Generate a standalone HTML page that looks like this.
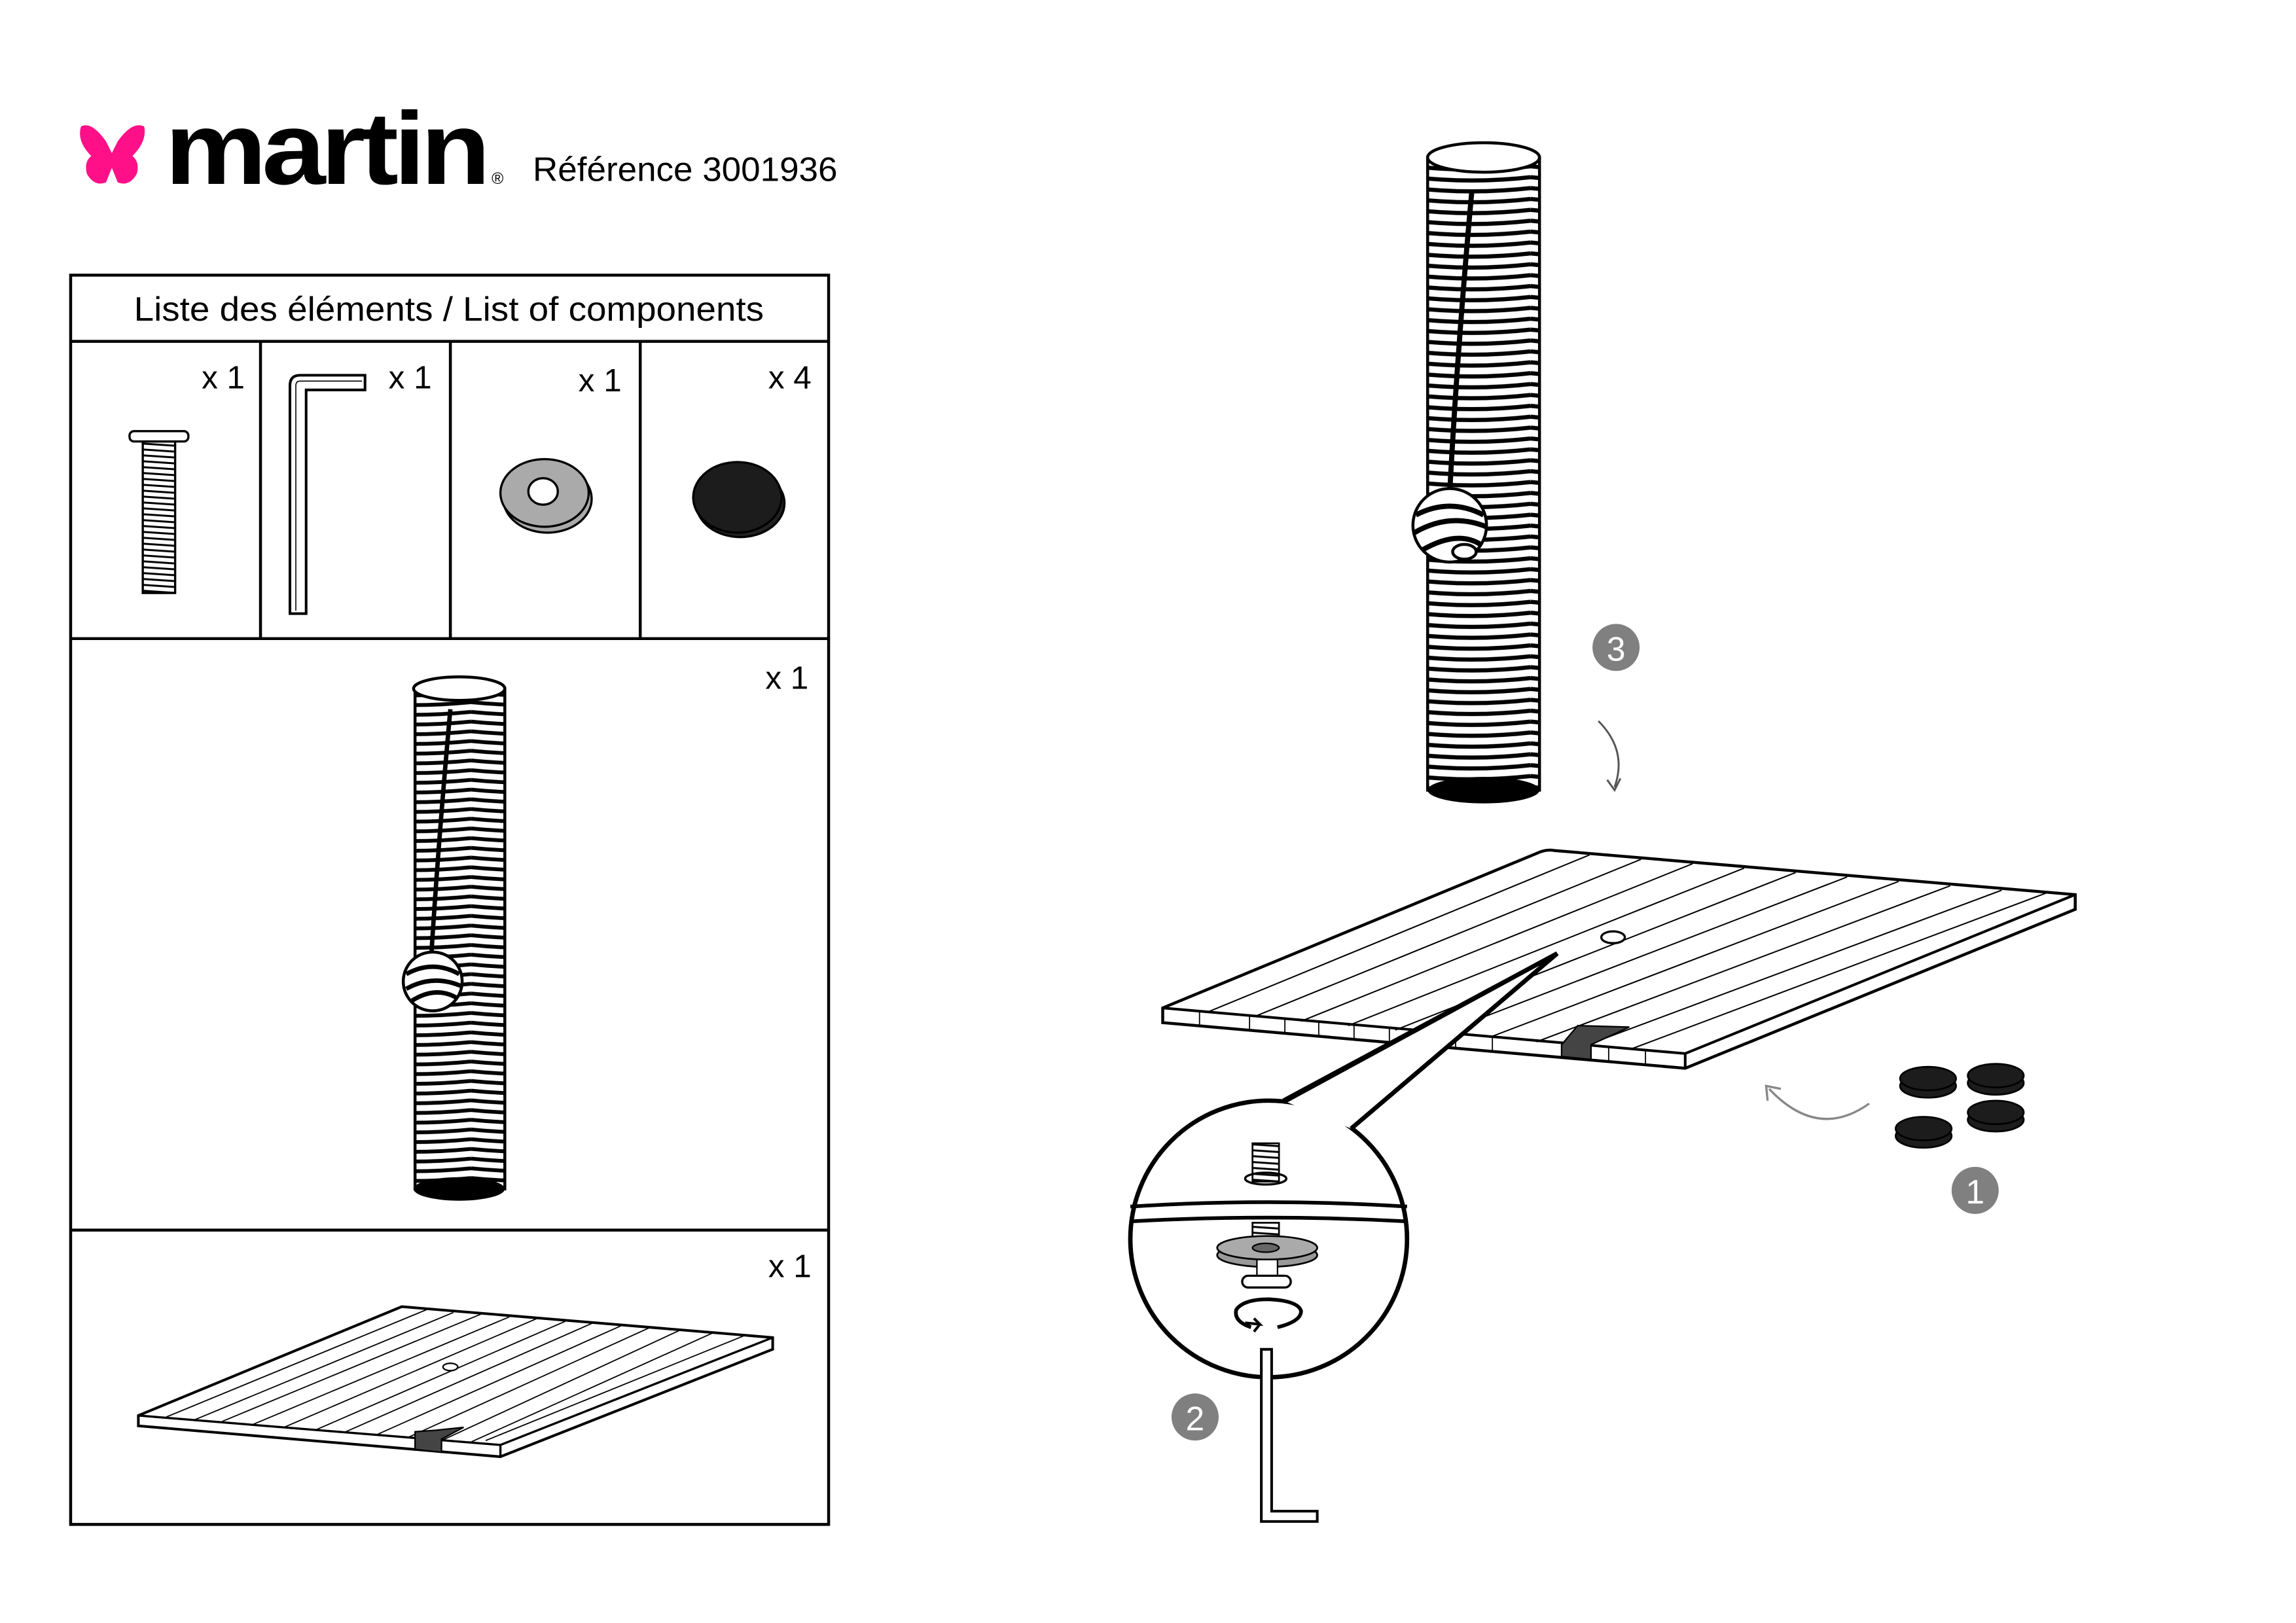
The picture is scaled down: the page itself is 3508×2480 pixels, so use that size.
<!DOCTYPE html>
<html><head><meta charset="utf-8"><style>
html,body{margin:0;padding:0;background:#fff}
svg{display:block}
text{font-family:"Liberation Sans",sans-serif}
</style></head><body>
<svg width="3508" height="2480" viewBox="0 0 1560 1103" preserveAspectRatio="none" xmlns="http://www.w3.org/2000/svg">
<defs>
<pattern id="st" width="80" height="6.6" patternUnits="userSpaceOnUse">
<path d="M0 2 Q40 6 80 2" stroke="#000" stroke-width="2.6" fill="none"/>
</pattern>
<pattern id="st2" width="80" height="7.4" patternUnits="userSpaceOnUse">
<path d="M0 2 Q40 6.5 80 2" stroke="#000" stroke-width="2.8" fill="none"/>
</pattern>
<pattern id="th" width="30" height="4" patternUnits="userSpaceOnUse">
<path d="M0 1 L30 3" stroke="#000" stroke-width="1.3"/>
</pattern>
</defs>
<rect width="1560" height="1103" fill="#fff"/>
<!-- logo -->
<path d="M55 86 Q62 82 72 96 L76 104 L80 96 Q90 82 98 86 Q100 96 90 106 Q95 110 93 118 Q88 127 80 124 L76 114 L72 124 Q64 127 59 118 Q57 110 62 106 Q52 96 55 86Z" fill="#ff1088"/>
<text x="112" y="125" font-size="70" font-weight="bold" letter-spacing="-3" textLength="218" lengthAdjust="spacingAndGlyphs">martin</text>
<text x="334" y="125" font-size="11">®</text>
<text x="362" y="123" font-size="23" textLength="207" lengthAdjust="spacingAndGlyphs">Référence 3001936</text>
<!-- table -->
<g fill="none" stroke="#000" stroke-width="2">
<rect x="48" y="187" width="515" height="849"/>
<line x1="48" y1="232" x2="563" y2="232"/>
<line x1="48" y1="434" x2="563" y2="434"/>
<line x1="48" y1="836" x2="563" y2="836"/>
<line x1="177" y1="232" x2="177" y2="434"/>
<line x1="306" y1="232" x2="306" y2="434"/>
<line x1="435" y1="232" x2="435" y2="434"/>
</g>
<text x="305" y="218" font-size="23" text-anchor="middle" textLength="428" lengthAdjust="spacingAndGlyphs">Liste des éléments / List of components</text>
<g font-size="22">
<text x="137" y="264">x 1</text><text x="264" y="264">x 1</text><text x="393" y="266">x 1</text><text x="522" y="264">x 4</text>
<text x="520" y="468">x 1</text><text x="522" y="868">x 1</text>
</g>
<!-- bolt -->
<rect x="97" y="300" width="22" height="103" fill="url(#th)" stroke="#000" stroke-width="1.5"/>
<rect x="88" y="293" width="40" height="7" rx="3" fill="#fff" stroke="#000" stroke-width="1.5"/>
<!-- hex key -->
<path d="M197 417 V262 Q197 255 204 255 H248 V265 H208 V417 Z" fill="#fff" stroke="#000" stroke-width="1.8"/>
<path d="M201 415 V262 Q201 259 204 259 H246" fill="none" stroke="#000" stroke-width="0.7"/>
<!-- washer -->
<ellipse cx="372" cy="339" rx="30" ry="23" fill="#aaa" stroke="#000" stroke-width="1.5"/>
<ellipse cx="370" cy="335" rx="30" ry="23" fill="#aaa" stroke="#000" stroke-width="1.5"/>
<ellipse cx="369" cy="334" rx="10" ry="9" fill="#fff" stroke="#000" stroke-width="1.5"/>
<!-- cap -->
<ellipse cx="503" cy="342" rx="30" ry="23" fill="#222" stroke="#000" stroke-width="1.5"/>
<ellipse cx="501" cy="338" rx="30" ry="24" fill="#1c1c1c" stroke="#000" stroke-width="1.5"/>
<!-- small post -->
<ellipse cx="312" cy="808" rx="31" ry="8" fill="#000"/>
<rect x="282" y="468" width="61" height="340" fill="url(#st)" stroke="#000" stroke-width="2"/>
<ellipse cx="312" cy="468" rx="31" ry="8" fill="#fff" stroke="#000" stroke-width="2"/>
<path d="M306 482 Q298 570 293 650" stroke="#000" stroke-width="3" fill="none"/>
<circle cx="294" cy="667" r="20" fill="#fff" stroke="#000" stroke-width="2"/>
<path d="M276 662 Q294 652 312 662 M276 672 Q294 662 313 670 M280 680 Q296 670 310 678" stroke="#000" stroke-width="3" fill="none"/>
<!-- small board -->
<path d="M94 962 L273 888 L525 909 V917 L340 990 L94 969 Z" fill="#fff" stroke="#000" stroke-width="1.8"/>
<path d="M94 962 L340 982 L525 909 M340 982 V990" fill="none" stroke="#000" stroke-width="1.5"/>
<g stroke="#000" stroke-width="0.8">
<line x1="113" y1="963" x2="290" y2="890"/><line x1="132" y1="965" x2="308" y2="892"/><line x1="151" y1="966" x2="327" y2="893"/><line x1="172" y1="968" x2="346" y2="895"/><line x1="193" y1="970" x2="365" y2="896"/><line x1="214" y1="972" x2="384" y2="898"/><line x1="235" y1="973" x2="403" y2="899"/><line x1="256" y1="975" x2="422" y2="901"/><line x1="277" y1="977" x2="442" y2="902"/><line x1="300" y1="979" x2="462" y2="904"/><line x1="320" y1="980" x2="484" y2="906"/><line x1="505" y1="908" x2="330" y2="979"/>
</g>
<ellipse cx="306" cy="929" rx="5" ry="2.5" fill="#fff" stroke="#000"/>
<path d="M282 973 L296 972 L315 970 L300 978 V987 L282 985 Z" fill="#444" stroke="#000" stroke-width="1"/>
<!-- big post -->
<ellipse cx="1008" cy="537" rx="38" ry="9" fill="#000"/>
<rect x="970" y="107" width="76" height="430" fill="url(#st2)" stroke="#000" stroke-width="2"/>
<ellipse cx="1008" cy="107" rx="38" ry="10" fill="#fff" stroke="#000" stroke-width="2"/>
<path d="M1000 130 Q990 240 985 335" stroke="#000" stroke-width="3.5" fill="none"/>
<circle cx="985" cy="357" r="25" fill="#fff" stroke="#000" stroke-width="2"/>
<path d="M962 350 Q985 338 1008 350 M961 362 Q985 348 1010 358 M966 374 Q990 360 1006 370" stroke="#000" stroke-width="3.5" fill="none"/>
<ellipse cx="995" cy="375" rx="8" ry="5" fill="#fff" stroke="#000" stroke-width="2"/>
<!-- badge 3 + arrow -->
<circle cx="1098" cy="440" r="16" fill="#808080"/>
<text x="1098" y="449" font-size="23" fill="#fff" text-anchor="middle">3</text>
<path d="M1086 490 Q1106 510 1097 535" stroke="#555" stroke-width="1.3" fill="none"/>
<path d="M1092 530 L1097 537 L1101 529" stroke="#555" stroke-width="1.3" fill="none"/>
<!-- big board -->
<path d="M790 685 L1044 580 Q1050 577 1056 578 L1410 608 V618 L1145 726 L790 695 Z" fill="#fff" stroke="#000" stroke-width="2"/>
<path d="M790 685 L1145 716 L1410 608 M1145 716 V726" fill="none" stroke="#000" stroke-width="1.8"/>
<g stroke="#000" stroke-width="0.9">
<line x1="820" y1="688" x2="1080" y2="581"/><line x1="852" y1="691" x2="1115" y2="584"/><line x1="884" y1="694" x2="1150" y2="587"/><line x1="916" y1="697" x2="1185" y2="590"/><line x1="948" y1="700" x2="1220" y2="593"/><line x1="980" y1="702" x2="1255" y2="596"/><line x1="1012" y1="705" x2="1290" y2="599"/><line x1="1044" y1="708" x2="1325" y2="602"/><line x1="1076" y1="711" x2="1360" y2="605"/><line x1="1108" y1="713" x2="1390" y2="607"/>
</g>
<g stroke="#000" stroke-width="0.8">
<line x1="815" y1="687" x2="815" y2="697"/><line x1="849" y1="690" x2="849" y2="700"/><line x1="873" y1="692" x2="873" y2="702"/><line x1="896" y1="694" x2="896" y2="704"/><line x1="920" y1="696" x2="920" y2="706"/><line x1="944" y1="698" x2="944" y2="708"/><line x1="989" y1="702" x2="989" y2="712"/><line x1="1014" y1="705" x2="1014" y2="715"/><line x1="1093" y1="712" x2="1093" y2="722"/><line x1="1118" y1="714" x2="1118" y2="724"/>
</g>
<ellipse cx="1096" cy="637" rx="8" ry="4" fill="#fff" stroke="#000" stroke-width="1.5"/>
<path d="M1061 710 L1072 697 L1107 698 L1081 710 V720 L1061 718 Z" fill="#444" stroke="#000" stroke-width="1"/>
<!-- pads + arrow + badge1 -->
<g fill="#1c1c1c" stroke="#000" stroke-width="1.2">
<ellipse cx="1310" cy="738" rx="19" ry="8"/><ellipse cx="1310" cy="733" rx="19" ry="8"/>
<ellipse cx="1356" cy="736" rx="19" ry="8"/><ellipse cx="1356" cy="731" rx="19" ry="8"/>
<ellipse cx="1356" cy="761" rx="19" ry="8"/><ellipse cx="1356" cy="756" rx="19" ry="8"/>
<ellipse cx="1307" cy="772" rx="19" ry="8"/><ellipse cx="1307" cy="767" rx="19" ry="8"/>
</g>
<path d="M1270 750 Q1235 775 1202 740" stroke="#888" stroke-width="1.5" fill="none"/>
<path d="M1201 748 L1200 738 L1210 740" stroke="#888" stroke-width="1.5" fill="none"/>
<circle cx="1342" cy="809" r="16" fill="#808080"/>
<text x="1342" y="818" font-size="23" fill="#fff" text-anchor="middle">1</text>
<!-- callout -->
<path d="M872 748 L1058 648 L918 767" fill="#fff" stroke="#000" stroke-width="3"/>
<circle cx="862" cy="842" r="94" fill="#fff" stroke="#000" stroke-width="3"/>
<path d="M872 748 L1058 648 L918 767" fill="#fff" stroke="none"/>
<path d="M872 749 L1058 648 L918 767" fill="none" stroke="#000" stroke-width="3"/>
<path d="M768 820 Q862 814 956 820 M769 830 Q862 825 955 830" fill="none" stroke="#000" stroke-width="2.5"/>
<ellipse cx="860" cy="801" rx="14" ry="4" fill="#fff" stroke="#000" stroke-width="1.5"/>
<rect x="851" y="777" width="18" height="26" fill="url(#th)" stroke="#000" stroke-width="1.2"/>
<rect x="851" y="831" width="18" height="17" fill="url(#th)" stroke="#000" stroke-width="1.2"/>
<ellipse cx="861" cy="853" rx="34" ry="8" fill="#999" stroke="#000" stroke-width="1.2"/>
<ellipse cx="861" cy="848" rx="34" ry="8" fill="#aaa" stroke="#000" stroke-width="1.2"/>
<ellipse cx="860" cy="848" rx="9" ry="3" fill="#666" stroke="#000"/>
<rect x="854" y="856" width="14" height="11" fill="#fff" stroke="#000"/>
<rect x="844" y="867" width="33" height="8" rx="4" fill="#fff" stroke="#000" stroke-width="1.5"/>
<path d="M850 902 Q838 898 840 890 Q845 883 862 883 Q882 884 884 891 Q884 898 868 902" fill="none" stroke="#000" stroke-width="2.5"/>
<path d="M846 899 L856 900 L852 896 M856 900 L852 905" fill="none" stroke="#000" stroke-width="1.8"/>
<path d="M857 1034 V917 H864 V1027 H895 V1034 Z" fill="#fff" stroke="#000" stroke-width="1.8"/>
<circle cx="812" cy="963" r="16" fill="#808080"/>
<text x="812" y="972" font-size="23" fill="#fff" text-anchor="middle">2</text>
</svg>
</body></html>
